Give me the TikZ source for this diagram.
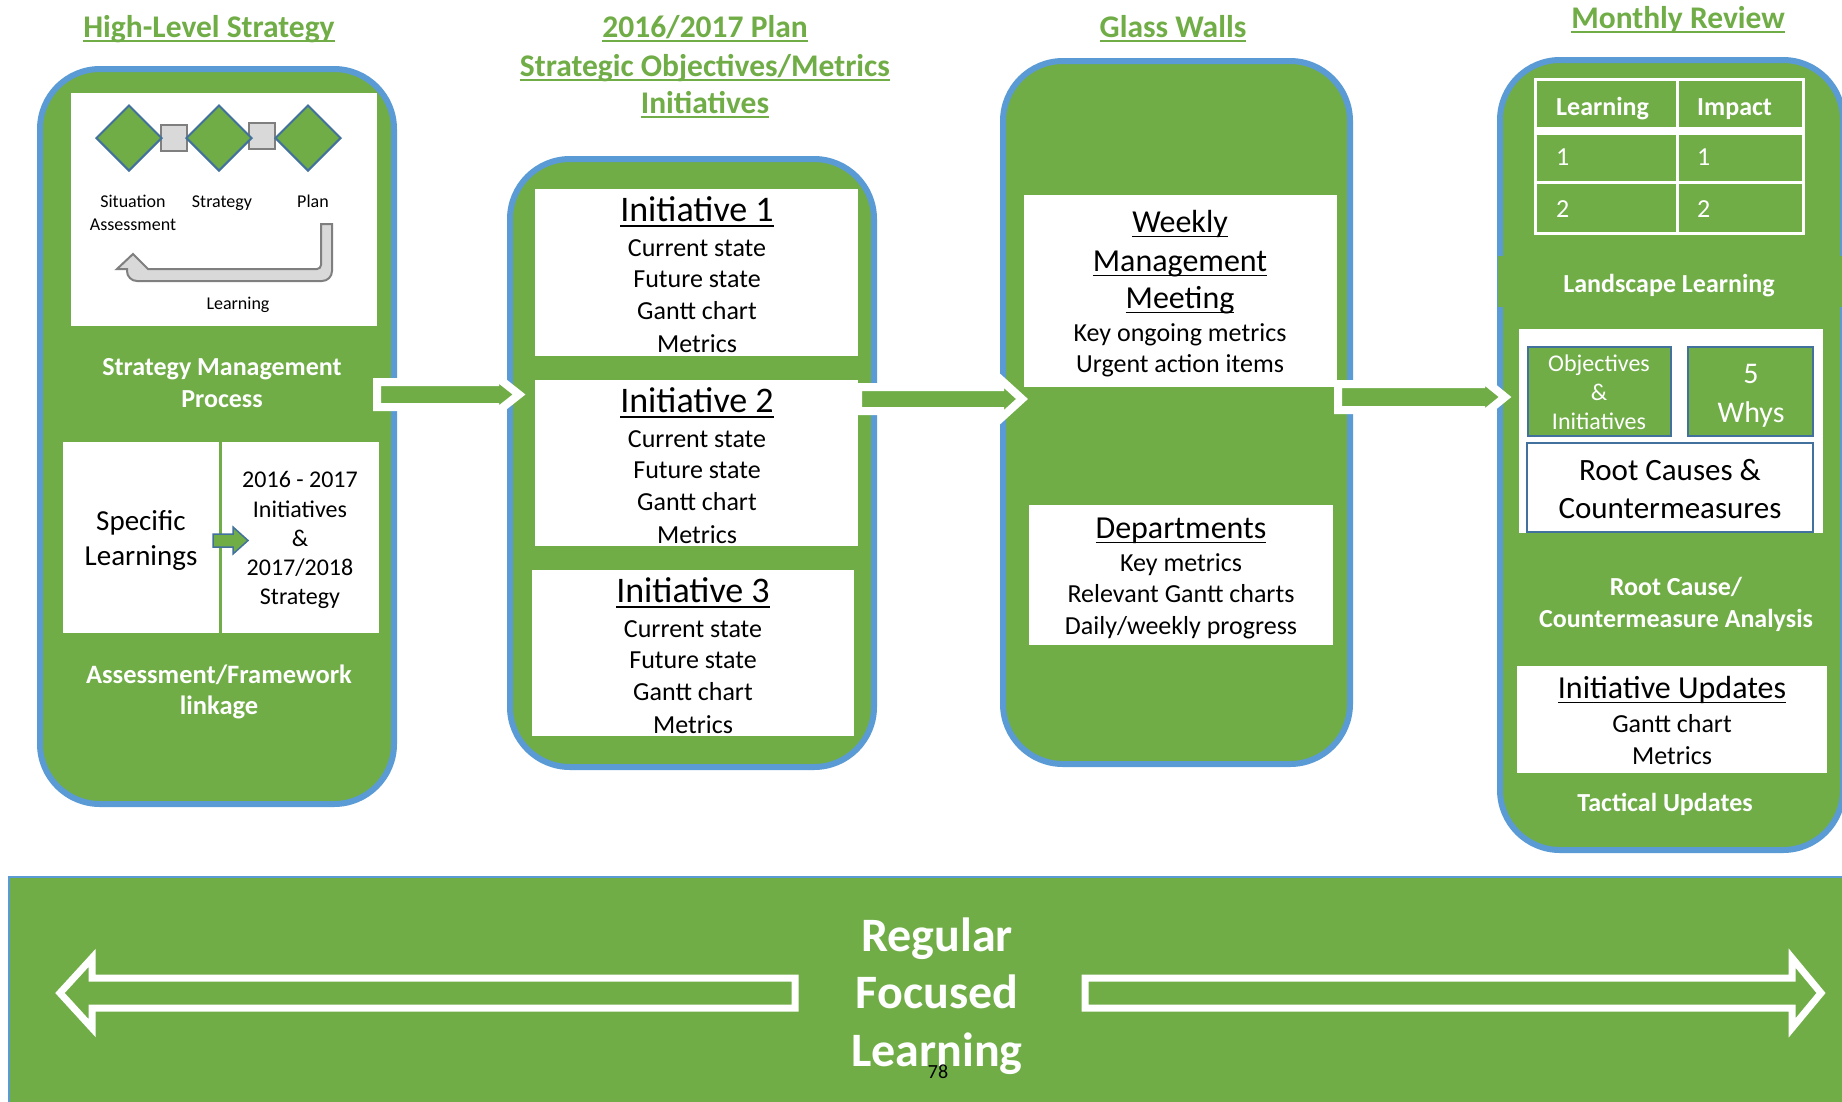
\documentclass[tikz,border=0pt]{standalone}
\usepackage{fontspec}
\setmainfont{Carlito}
\usetikzlibrary{shapes.geometric}
\definecolor{grn}{HTML}{70AD47}
\definecolor{bluB}{HTML}{5B9BD5}
\definecolor{dblue}{HTML}{41719C}
\definecolor{lgray}{HTML}{D9D9D9}
\definecolor{mgray}{HTML}{7F7F7F}
\newcommand{\myul}[1]{\setbox0\hbox{#1}\rlap{\rule[-0.17em]{\wd0}{0.06em}}\box0}
\begin{document}
\begin{tikzpicture}[x=1pt,y=-1pt,
  bigbox/.style={fill=grn, draw=bluB, line width=6pt, rounded corners=60pt, inner sep=0pt, outer sep=0pt, anchor=north west},
  wbox/.style={fill=white, draw=none, inner sep=0pt, outer sep=0pt, anchor=north west},
  gbox/.style={fill=grn, draw=dblue, line width=2pt, inner sep=0pt, outer sep=0pt, anchor=north west},
  rbox/.style={fill=white, draw=dblue, line width=2pt, inner sep=0pt, outer sep=0pt, anchor=north west},
  ttl/.style={text=grn, font=\bfseries\fontsize{31.5}{38}\selectfont, anchor=base, inner sep=0pt},
  wt/.style={text=white, font=\bfseries\fontsize{26}{31}\selectfont, anchor=base, inner sep=0pt},
  tx/.style={text=black, anchor=base, inner sep=0pt},
  arr/.style={fill=grn, draw=white, line width=8pt, miter limit=10},
  diam/.style={diamond, fill=grn, draw=dblue, line width=2pt, minimum width=66pt, minimum height=66pt, inner sep=0pt},
  sqr/.style={rectangle, fill=lgray, draw=mgray, line width=2pt, minimum size=26pt, inner sep=0pt},
]
\fill[white] (0,0) rectangle (1842,1101);
\useasboundingbox (0,0) rectangle (1842,1101);

% big boxes
\node[bigbox, minimum width=354pt, minimum height=735pt] (box1) at (40,69) {};
\node[bigbox, minimum width=364pt, minimum height=608pt] (box2) at (510,159) {};
\node[bigbox, minimum width=347pt, minimum height=703pt] (box3) at (1003,61) {};
\node[bigbox, minimum width=343pt, minimum height=790pt] (box4) at (1500,60) {};
\fill[grn] (1498,256) rectangle (1845,307);

% bottom band
\node[fill=grn, draw=bluB, line width=2pt, inner sep=0pt, outer sep=0pt, anchor=north west, minimum width=1840pt, minimum height=230pt] (band) at (9,877) {};

% white boxes
\node[wbox, minimum width=306pt, minimum height=233pt] (b1top) at (71,93) {};
\node[wbox, minimum width=156pt, minimum height=191pt] (b1sl) at (63,442) {};
\node[wbox, minimum width=157pt, minimum height=191pt] (b1rt) at (222,442) {};
\node[wbox, minimum width=323pt, minimum height=167pt] (init1) at (535,189) {};
\node[wbox, minimum width=323pt, minimum height=166pt] (init2) at (535,380) {};
\node[wbox, minimum width=322pt, minimum height=166pt] (init3) at (532,570) {};
\node[wbox, minimum width=313pt, minimum height=192pt] (weekly) at (1024,195) {};
\node[wbox, minimum width=304pt, minimum height=140pt] (dept) at (1029,505) {};
\node[wbox, minimum width=304pt, minimum height=204pt] (b4w) at (1519,329) {};
\node[gbox, minimum width=143pt, minimum height=89pt] (obj) at (1528,347) {};
\node[gbox, minimum width=125pt, minimum height=89pt] (whys) at (1688,347) {};
\node[rbox, minimum width=286pt, minimum height=89pt] (root) at (1527,443) {};
\node[wbox, minimum width=310pt, minimum height=107pt] (iupd) at (1517,666) {};

% process chain in box 1
\node[sqr] (sq1) at (174,138) {};
\node[sqr] (sq2) at (262,136) {};
\node[diam] (d1) at (129,138) {};
\node[diam] (d2) at (219,138) {};
\node[diam] (d3) at (308,138) {};
\path[fill=lgray, draw=mgray, line width=2pt] (321,224) -- (332,224) [rounded corners=10pt] -- (332,281) -- (127,281) [sharp corners] -- (127,269) -- (117,269) -- (133,254) -- (148,269) [rounded corners=4pt] -- (321,269) [sharp corners] -- cycle;

% small arrow in box 1
\path[fill=grn, draw=dblue, line width=1.5pt] (213,534) -- (233,534) -- (233,527) -- (248,540.5) -- (233,554) -- (233,547) -- (213,547) -- cycle;

% table in box 4
\draw[white, line width=3pt] (1535,79) rectangle (1803,233);
\draw[white, line width=8pt] (1535,131) -- (1803,131);
\draw[white, line width=3pt] (1535,182) -- (1803,182);
\draw[white, line width=3pt] (1677,79) -- (1677,233);

% connecting block arrows
\path[arr] (377,382) -- (495,382) -- (495,375.5) -- (519,394.5) -- (495,413.5) -- (495,407) -- (377,407) -- cycle;
\path[arr] (858,387) -- (1000,387) -- (1000,379) -- (1022,399) -- (1000,419) -- (1000,411) -- (858,411) -- cycle;
\path[arr] (1338,384) -- (1481,384) -- (1481,377.5) -- (1505,397) -- (1481,416.5) -- (1481,410) -- (1338,410) -- cycle;

% bottom double arrows
\path[arr, line width=7pt] (60,993) -- (92,958) -- (92,978) -- (795,978) -- (795,1008) -- (92,1008) -- (92,1028) -- cycle;
\path[arr, line width=7pt] (1085,978) -- (1792,978) -- (1792,958) -- (1821,993) -- (1792,1028) -- (1792,1008) -- (1085,1008) -- cycle;

% titles
\node[ttl] (t1) at (209,37) {\myul{High-Level Strategy}};
\node[ttl] (t2a) at (705,37) {\myul{2016/2017 Plan}};
\node[ttl] (t2b) at (705,76) {\myul{Strategic Objectives/Metrics}};
\node[ttl] (t2c) at (705,113) {\myul{Initiatives}};
\node[ttl] (t3) at (1173,37) {\myul{Glass Walls}};
\node[ttl] (t4) at (1678,28) {\myul{Monthly Review}};

% box 1 texts
\node[tx, font=\fontsize{18}{22}\selectfont] (sa1) at (133,207) {Situation};
\node[tx, font=\fontsize{18}{22}\selectfont] (sa2) at (133,230) {Assessment};
\node[tx, font=\fontsize{18}{22}\selectfont] (stl) at (222,207) {Strategy};
\node[tx, font=\fontsize{18}{22}\selectfont] (pll) at (313,207) {Plan};
\node[tx, font=\fontsize{18}{22}\selectfont] (lrl) at (238,309) {Learning};
\node[wt] (smp1) at (222,375) {Strategy Management};
\node[wt] (smp2) at (222,407) {Process};
\node[tx, font=\fontsize{29}{35}\selectfont] (sl1) at (141,530) {Specific};
\node[tx, font=\fontsize{29}{35}\selectfont] (sl2) at (141,565) {Learnings};
\node[tx, font=\fontsize{24}{29}\selectfont] (r1) at (300,487) {2016 - 2017};
\node[tx, font=\fontsize{24}{29}\selectfont] (r2) at (300,517) {Initiatives};
\node[tx, font=\fontsize{24}{29}\selectfont] (r3) at (300,546) {\&};
\node[tx, font=\fontsize{24}{29}\selectfont] (r4) at (300,575) {2017/2018};
\node[tx, font=\fontsize{24}{29}\selectfont] (r5) at (300,604) {Strategy};
\node[wt, font=\bfseries\fontsize{26.5}{31}\selectfont] (afl1) at (219,683) {Assessment/Framework};
\node[wt, font=\bfseries\fontsize{26.5}{31}\selectfont] (afl2) at (219,714) {linkage};

% box 2 texts
\foreach \k/\dy/\cx in {1/0/697, 2/191/697, 3/381/693}{
  \node[tx, font=\fontsize{36}{40}\selectfont] (ih\k) at (\cx,221+\dy) {\myul{Initiative \k}};
  \node[tx, font=\fontsize{26}{31}\selectfont] (ia\k) at (\cx,256+\dy) {Current state};
  \node[tx, font=\fontsize{26}{31}\selectfont] (ib\k) at (\cx,287+\dy) {Future state};
  \node[tx, font=\fontsize{26}{31}\selectfont] (ic\k) at (\cx,319+\dy) {Gantt chart};
  \node[tx, font=\fontsize{26}{31}\selectfont] (id\k) at (\cx,352+\dy) {Metrics};
}

% box 3 texts
\node[tx, font=\fontsize{32}{38}\selectfont] (w1) at (1180,232) {\myul{Weekly}};
\node[tx, font=\fontsize{32}{38}\selectfont] (w2) at (1180,271) {\myul{Management}};
\node[tx, font=\fontsize{32}{38}\selectfont] (w3) at (1180,308) {\myul{Meeting}};
\node[tx, font=\fontsize{26}{31}\selectfont] (w4) at (1180,341) {Key ongoing metrics};
\node[tx, font=\fontsize{26}{31}\selectfont] (w5) at (1180,372) {Urgent action items};
\node[tx, font=\fontsize{32}{38}\selectfont] (dp1) at (1181,538) {\myul{Departments}};
\node[tx, font=\fontsize{26}{31}\selectfont] (dp2) at (1181,571) {Key metrics};
\node[tx, font=\fontsize{26}{31}\selectfont] (dp3) at (1181,602) {Relevant Gantt charts};
\node[tx, font=\fontsize{26}{31}\selectfont] (dp4) at (1181,634) {Daily/weekly progress};

% box 4 texts
\node[wt, anchor=base west] (th1) at (1556,115) {Learning};
\node[wt, anchor=base west] (th2) at (1697,115) {Impact};
\node[tx, text=white, anchor=base west, font=\fontsize{26}{31}\selectfont] (c11) at (1556,165) {1};
\node[tx, text=white, anchor=base west, font=\fontsize{26}{31}\selectfont] (c12) at (1697,165) {1};
\node[tx, text=white, anchor=base west, font=\fontsize{26}{31}\selectfont] (c21) at (1556,217) {2};
\node[tx, text=white, anchor=base west, font=\fontsize{26}{31}\selectfont] (c22) at (1697,217) {2};
\node[wt] (land) at (1669,292) {Landscape Learning};
\node[tx, text=white, font=\fontsize{24}{29}\selectfont] (ob1) at (1599,371) {Objectives};
\node[tx, text=white, font=\fontsize{24}{29}\selectfont] (ob2) at (1599,400) {\&};
\node[tx, text=white, font=\fontsize{24}{29}\selectfont] (ob3) at (1599,429) {Initiatives};
\node[tx, text=white, font=\fontsize{30}{36}\selectfont] (wh1) at (1751,383) {5};
\node[tx, text=white, font=\fontsize{30}{36}\selectfont] (wh2) at (1751,422) {Whys};
\node[tx, font=\fontsize{31}{37}\selectfont] (rt1) at (1670,480) {Root Causes \&};
\node[tx, font=\fontsize{31}{37}\selectfont] (rt2) at (1670,518) {Countermeasures};
\node[wt] (rc1) at (1676,595) {Root Cause/};
\node[wt] (rc2) at (1676,627) {Countermeasure Analysis};
\node[tx, font=\fontsize{32}{38}\selectfont] (iu1) at (1672,698) {\myul{Initiative Updates}};
\node[tx, font=\fontsize{26}{31}\selectfont] (iu2) at (1672,732) {Gantt chart};
\node[tx, font=\fontsize{26}{31}\selectfont] (iu3) at (1672,764) {Metrics};
\node[wt] (tac) at (1665,811) {Tactical Updates};

% bottom texts
\node[wt, font=\bfseries\fontsize{48}{57}\selectfont] (rfl1) at (937,951) {Regular};
\node[wt, font=\bfseries\fontsize{48}{57}\selectfont] (rfl2) at (937,1008) {Focused};
\node[wt, font=\bfseries\fontsize{48}{57}\selectfont] (rfl3) at (937,1066) {Learning};
\node[tx, font=\fontsize{20}{24}\selectfont] (pg) at (938,1078) {78};
\end{tikzpicture}
\end{document}
